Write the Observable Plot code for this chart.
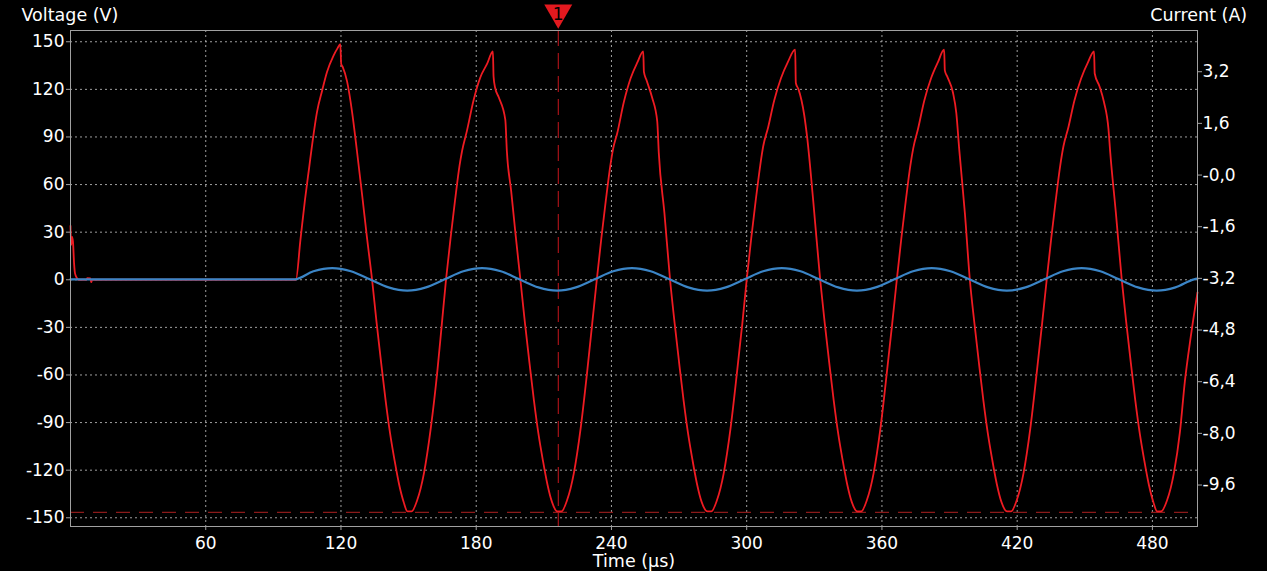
<!DOCTYPE html>
<html><head><meta charset="utf-8">
<script src="https://cdn.jsdelivr.net/npm/d3@7"></script>
<script src="https://cdn.jsdelivr.net/npm/@observablehq/plot@0.6"></script>
<style>html,body{margin:0;padding:0;background:#000;overflow:hidden}</style>
</head><body><div id="chart"></div>
<script>
// ---- tick values / labels ----
const timeTicks = [60, 120, 180, 240, 300, 360, 420, 480];
const voltTicks = [-150, -120, -90, -60, -30, 0, 30, 60, 90, 120, 150];
const currentTicks = [3.2, 1.6, 0, -1.6, -3.2, -4.8, -6.4, -8.0, -9.6];
const currentLabels = ["3,2", "1,6", "-0,0", "-1,6", "-3,2", "-4,8", "-6,4", "-8,0", "-9,6"];

// ---- cursors ----
const markerTime = [216.4];
const markerLabel = ["1"];
const levelVolt = [-146.6];

// ---- voltage trace (µs, V) ----
const redStart = [[0,34],[0.3,22],[0.7,27],[1.1,24],[1.6,10],[2.0,4],[2.9,1],[3.6,0],[7.0,0],[7.5,1],[8.8,0.8],[9.2,-1.5],[9.6,0],[99.8,0]];
const redCycle1 = [[100,0],[102,25],[104,50],[106,72],[107,83],[109.4,106],[111.6,119],[113.8,131],[116.6,141],[118.5,146],[119.7,148.5],[120.1,136],[120.8,134],[122.7,125],[124.9,106],[127.1,81],[129.5,52],[131.5,27],[133.8,0],[135.8,-27],[137.8,-52],[139.8,-76],[141.8,-97],[143.8,-114],[145.8,-129],[147.8,-140],[149.5,-146],[151.3,-146],[153.8,-139],[156.8,-122],[159.8,-94],[162.8,-57],[164.8,-27]];
const redCycle2 = [[166.6,0],[168.6,26],[170.6,50],[172.6,72],[173.7,81],[175.9,94],[178.8,113],[181.8,127.5],[184.8,136],[187.4,144],[187.7,128],[188.4,121],[190,115],[192.9,101],[193.6,81],[195.5,56],[197.5,28],[199.6,0],[201.6,-27],[203.6,-52],[205.6,-76],[207.6,-97],[209.6,-114],[211.6,-129],[213.6,-140],[216,-146],[217.8,-146],[220.3,-139],[223.3,-122],[226.3,-94],[229.3,-57],[231.5,-27]];
const redCycle3 = [[233.5,0],[235.5,26],[237.5,50],[239.5,72],[240.8,83],[242.5,92],[245.5,112],[248.5,127],[251.5,137],[254.1,144],[254.4,131],[255.5,126],[258,115],[260.3,100],[261,80],[263.5,42],[266,0],[268,-27],[270,-52],[272,-76],[274,-97],[276,-114],[278,-129],[280,-140],[282.6,-146],[284.3,-146],[286.8,-139],[289.8,-122],[292.8,-94],[295.8,-57],[298.1,-27]];
const redCycle4 = [[300,0],[302,26],[304,50],[306,72],[307.3,84],[309.5,96],[312.2,113],[315.2,127],[318.2,137],[321.5,145],[321.8,124],[323,120],[325.5,104],[326.8,90],[329.5,50],[332.6,0],[334.6,-27],[336.6,-52],[338.6,-76],[340.6,-97],[342.6,-114],[344.6,-129],[346.6,-140],[349.1,-146],[350.8,-146],[353.3,-139],[356.3,-122],[359.3,-94],[362.3,-57],[364.6,-27]];
const redCycle5 = [[366.6,0],[368.6,26],[370.6,50],[372.6,72],[373.9,83],[376,95],[378.8,113],[381.8,127],[384.8,137],[387.6,145],[387.9,132],[389,128],[391.5,118],[393,105],[394.3,82],[396.8,42],[399,0],[401,-27],[403,-52],[405,-76],[407,-97],[409,-114],[411,-129],[413,-140],[415.5,-146],[417.3,-146],[419.8,-139],[422.8,-122],[425.8,-94],[428.8,-57],[431.1,-27]];
const redCycle6 = [[433.1,0],[435.1,26],[437.1,50],[439.1,72],[440.5,84],[442.7,96],[445.4,113],[448.4,127],[451.4,137],[454.1,144],[454.4,130],[456.5,122],[458.5,112],[460.5,95],[461.3,80],[463.8,42],[466.4,0],[468.4,-27],[470.4,-52],[472.4,-76],[474.4,-97],[476.4,-114],[478.4,-129],[480.4,-140],[482.1,-146],[483.8,-146],[486.5,-139],[489.5,-122],[492.2,-96],[494.4,-64],[497,-36],[500,-8]];

// ---- current trace (µs, A) ----
const blueTrace = [[0,-3.23],
 [99.5,-3.23],[107.8,-2.98],[116.1,-2.88],[124.4,-2.98],[132.8,-3.23],[141.1,-3.48],[149.4,-3.58],[157.7,-3.48],
 [166.0,-3.23],[174.3,-2.98],[182.6,-2.88],[190.9,-2.98],[199.2,-3.23],[207.6,-3.48],[215.9,-3.58],[224.2,-3.48],
 [232.5,-3.23],[240.8,-2.98],[249.1,-2.88],[257.4,-2.98],[265.8,-3.23],[274.1,-3.48],[282.4,-3.58],[290.7,-3.48],
 [299.0,-3.23],[307.3,-2.98],[315.6,-2.88],[323.9,-2.98],[332.2,-3.23],[340.6,-3.48],[348.9,-3.58],[357.2,-3.48],
 [365.5,-3.23],[373.8,-2.98],[382.1,-2.88],[390.4,-2.98],[398.8,-3.23],[407.1,-3.48],[415.4,-3.58],[423.7,-3.48],
 [432.0,-3.23],[440.3,-2.98],[448.6,-2.88],[456.9,-2.98],[465.2,-3.23],[473.6,-3.48],[481.9,-3.58],[490.2,-3.48],
 [498.5,-3.23],[500,-3.21]];

const redTrace = [].concat(redStart, redCycle1, redCycle2, redCycle3, redCycle4, redCycle5, redCycle6);

// right (current) axis expressed in left (voltage) axis units
const curOffset = 66, curGain = 20.35;
const toV = a => curOffset + curGain * a;
const labelByV = new Map(currentTicks.map((c, i) => [toV(c), currentLabels[i]]));
const markerY = 168.4;

const chart = Plot.plot({
  width: 1267, height: 571,
  marginLeft: 70, marginRight: 70, marginTop: 30, marginBottom: 45,
  style: {background: "#000", color: "#fff", fontFamily: "'DejaVu Sans', sans-serif", fontSize: "17px"},
  x: {domain: [0, 500]},
  y: {domain: [-155.5, 157.1]},
  marks: [
    Plot.gridX(timeTicks, {stroke: "#b0b0b0", strokeOpacity: 0.9, strokeDasharray: "2,3"}),
    Plot.gridY(voltTicks, {stroke: "#b0b0b0", strokeOpacity: 0.9, strokeDasharray: "2,3"}),
    Plot.ruleY(levelVolt, {stroke: "#8c1a1a", strokeWidth: 1.2, strokeDasharray: "14,9"}),
    Plot.ruleX(markerTime, {stroke: "#c8161d", strokeWidth: 1, strokeDasharray: "16,7"}),
    Plot.line(redTrace, {x: d => d[0], y: d => d[1], stroke: "#ee1b22", strokeWidth: 1.8, curve: "monotone-x"}),
    Plot.line(blueTrace, {x: d => d[0], y: d => toV(d[1]), stroke: "#3b85c6", strokeWidth: 2.2, curve: "monotone-x"}),
    Plot.frame({stroke: "#a0a0a0"}),
    Plot.axisX(timeTicks, {anchor: "bottom", tickSize: 4, tickPadding: 6, stroke: "#a0a0a0", fill: "#fff", tickFormat: d => String(d), label: null}),
    Plot.axisY(voltTicks, {anchor: "left", tickSize: 4, tickPadding: 2, stroke: "#a0a0a0", fill: "#fff", tickFormat: d => String(d), label: null}),
    Plot.axisY(currentTicks.map(toV), {anchor: "right", tickSize: 4, tickPadding: 1, stroke: "#a0a0a0", fill: "#fff", tickFormat: v => labelByV.get(v), label: null}),
    Plot.dot(markerTime, {x: d => d, y: () => markerY, symbol: "triangle", rotate: 180, r: 10.4, fill: "#e3191f", stroke: "none"}),
    Plot.text(markerLabel, {x: () => markerTime[0], y: () => markerY, text: d => d, fill: "#000", fontSize: 17, dy: 2}),
    Plot.text(["Voltage (V)"], {frameAnchor: "top-left", text: d => d, textAnchor: "start", lineAnchor: "bottom", dx: -49, dy: -9.3, fill: "#fff", fontSize: 17.5}),
    Plot.text(["Current (A)"], {frameAnchor: "top-right", text: d => d, textAnchor: "end", lineAnchor: "bottom", dx: 49.7, dy: -9.3, fill: "#fff", fontSize: 17.5}),
    Plot.text(["Time (µs)"], {frameAnchor: "bottom", text: d => d, textAnchor: "middle", lineAnchor: "bottom", dy: 40.5, fill: "#fff", fontSize: 17.5})
  ]
});
document.getElementById("chart").append(chart);
</script>
</body></html>
